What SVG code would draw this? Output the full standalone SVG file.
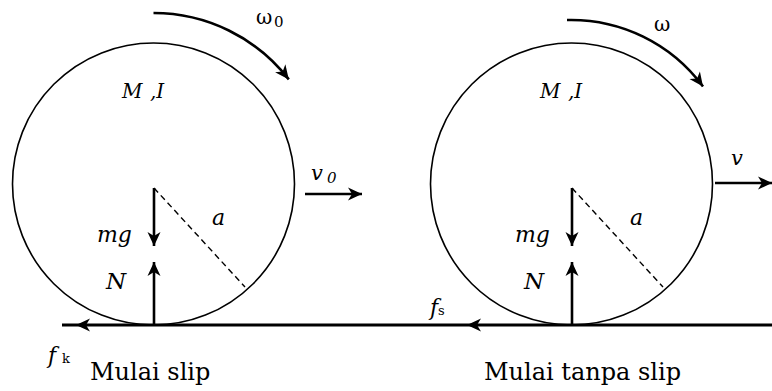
<svg xmlns="http://www.w3.org/2000/svg" xmlns:xlink="http://www.w3.org/1999/xlink" width="772" height="391" viewBox="0 0 772 391">
<style>
.wheel{fill:none;stroke:#000;stroke-width:1.6}
.vec{fill:none;stroke:#000;stroke-width:2.6}
.dash{fill:none;stroke:#000;stroke-width:1.4;stroke-dasharray:6 4}
.ground{fill:none;stroke:#000;stroke-width:3}
.it{font-style:italic}
</style>
<defs>
<marker id="arr" markerUnits="userSpaceOnUse" viewBox="-15 -7 16 14" refX="0" refY="0" markerWidth="16" markerHeight="14" orient="auto">
<path d="M0,0 L-14,-6.5 L-10,0 L-14,6.5 Z" fill="#000"/>
</marker>
<path id="ah" d="M0,0 L-14,-6.5 L-10,0 L-14,6.5 Z" fill="#000"/>
</defs>

<g id="ground-line">
<line class="ground" x1="62" y1="325" x2="772" y2="325"/>
<use xlink:href="#ah" transform="translate(76,325) rotate(180)"/>
<use xlink:href="#ah" transform="translate(467,325) rotate(180)"/>
</g>

<g id="wheel-slip">
<circle class="wheel" cx="153.5" cy="184" r="141"/>
<text class="it" x="122" y="98" font-size="20" font-family="DejaVu Serif">M</text>
<text class="it" x="150" y="98" font-size="20" font-family="DejaVu Serif">,I</text>
<line class="dash" x1="154" y1="188" x2="245" y2="287"/>
<text class="it" x="212" y="225" font-size="22" font-family="DejaVu Serif">a</text>
<text class="it" x="97" y="242" font-size="22" font-family="DejaVu Serif">mg</text>
<text class="it" x="106" y="289" font-size="23" font-family="DejaVu Serif">N</text>
</g>

<g id="wheel-noslip">
<circle class="wheel" cx="571.5" cy="184" r="141"/>
<text class="it" x="540" y="98" font-size="20" font-family="DejaVu Serif">M</text>
<text class="it" x="568" y="98" font-size="20" font-family="DejaVu Serif">,I</text>
<line class="dash" x1="572" y1="188" x2="663" y2="287"/>
<text class="it" x="630" y="225" font-size="22" font-family="DejaVu Serif">a</text>
<text class="it" x="515" y="242" font-size="22" font-family="DejaVu Serif">mg</text>
<text class="it" x="524" y="289" font-size="23" font-family="DejaVu Serif">N</text>
</g>

<g id="connectors">
<path class="vec" d="M153.5,13 A171,171 0 0 1 288.8,79.4" marker-end="url(#arr)"/>
<path class="vec" d="M567,20 A164,164 0 0 1 703,86.5" marker-end="url(#arr)"/>
<line class="vec" x1="154" y1="188" x2="154" y2="246" marker-end="url(#arr)"/>
<line class="vec" x1="154" y1="325" x2="154" y2="262" marker-end="url(#arr)"/>
<line class="vec" x1="572" y1="188" x2="572" y2="246" marker-end="url(#arr)"/>
<line class="vec" x1="572" y1="325" x2="572" y2="262" marker-end="url(#arr)"/>
<line class="vec" x1="305" y1="194" x2="362" y2="194" marker-end="url(#arr)"/>
<line class="vec" x1="715" y1="183" x2="772" y2="183" marker-end="url(#arr)"/>
</g>

<g id="labels">
<text x="256" y="24" font-size="20" font-family="DejaVu Serif">ω</text>
<text x="274" y="27" font-size="15" font-family="DejaVu Serif">0</text>
<text x="654" y="31" font-size="20" font-family="DejaVu Serif">ω</text>
<text class="it" x="311" y="180" font-size="21" font-family="DejaVu Serif">v</text>
<text class="it" x="327" y="183" font-size="15" font-family="DejaVu Serif">0</text>
<text class="it" x="731" y="165" font-size="21" font-family="DejaVu Serif">v</text>
<text class="it" x="48" y="363" font-size="22" font-family="DejaVu Serif">f</text>
<text x="62" y="363" font-size="13" font-family="DejaVu Serif">k</text>
<text class="it" x="430" y="315" font-size="22" font-family="DejaVu Serif">f</text>
<text x="438" y="315" font-size="13" font-family="DejaVu Serif">s</text>
<text x="90" y="380" font-size="24" font-family="DejaVu Serif">Mulai slip</text>
<text x="484" y="380" font-size="24" font-family="DejaVu Serif">Mulai tanpa slip</text>
</g>
</svg>
